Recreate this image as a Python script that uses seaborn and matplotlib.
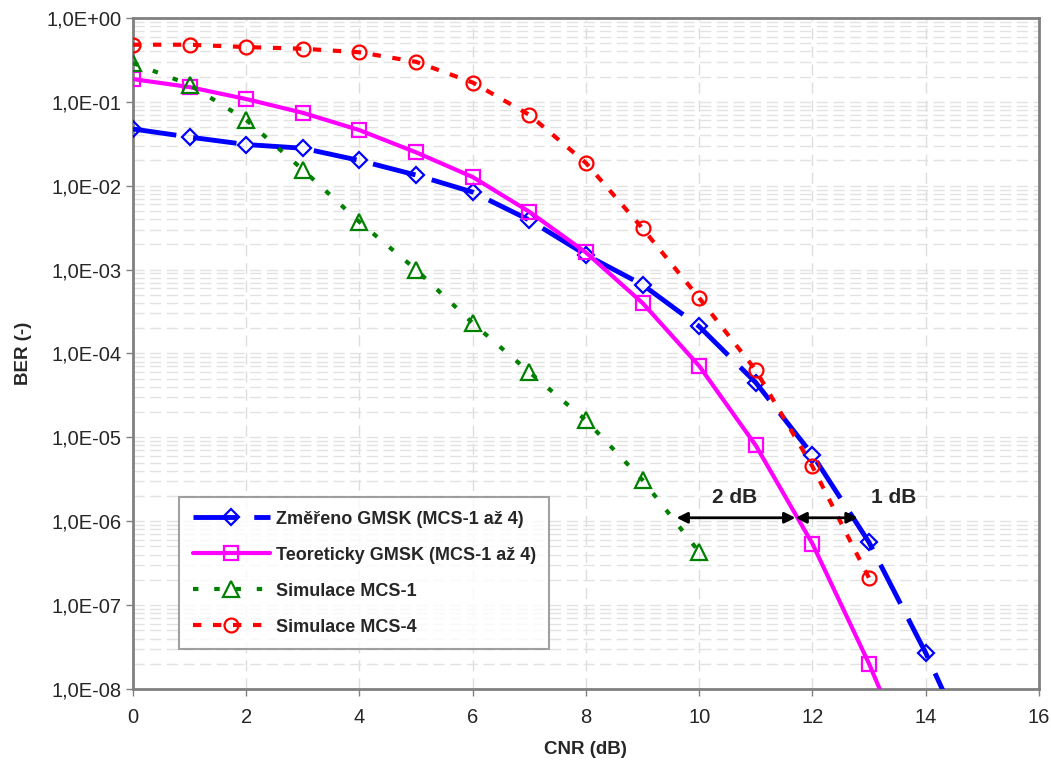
import matplotlib
matplotlib.use('Agg')

import numpy as np
import pandas as pd
import matplotlib.pyplot as plt
import matplotlib.ticker as mticker
import seaborn as sns

# ==============================
# DATA
# ==============================

cnr_zmereno = [0, 1, 2, 3, 4, 5, 6, 7, 8, 9, 10, 11, 12, 13, 14, 15]
ber_zmereno = [4.75e-2, 3.8e-2, 3.1e-2, 2.8e-2, 2.0e-2, 1.34e-2, 8.4e-3, 3.9e-3,
               1.5e-3, 6.6e-4, 2.1e-4, 4.5e-5, 6.2e-6, 5.6e-7, 2.7e-8, 9e-10]

cnr_teor = [0, 1, 2, 3, 4, 5, 6, 7, 8, 9, 10, 11, 12, 13, 14]
ber_teor = [1.87e-1, 1.5e-1, 1.08e-1, 7.4e-2, 4.6e-2, 2.5e-2, 1.27e-2, 4.9e-3,
            1.6e-3, 4.0e-4, 7.1e-5, 8.0e-6, 5.4e-7, 2.0e-8, 5e-10]

cnr_mcs1 = [0, 1, 2, 3, 4, 5, 6, 7, 8, 9, 10]
ber_mcs1 = [2.9e-1, 1.6e-1, 6.1e-2, 1.55e-2, 3.7e-3, 1.0e-3, 2.3e-4, 6.0e-5,
            1.6e-5, 3.1e-6, 4.3e-7]

cnr_mcs4 = [0, 1, 2, 3, 4, 5, 6, 7, 8, 9, 10, 11, 12, 13]
ber_mcs4 = [4.8e-1, 4.8e-1, 4.5e-1, 4.3e-1, 3.9e-1, 3.0e-1, 1.7e-1, 7.0e-2,
            1.87e-2, 3.1e-3, 4.6e-4, 6.3e-5, 4.5e-6, 2.1e-7]

nazvy = ['Změřeno GMSK (MCS-1 až 4)', 'Teoreticky GMSK (MCS-1 až 4)',
         'Simulace MCS-1', 'Simulace MCS-4']

# y axis decades (1E-08 .. 1E+00)
exponenty = [-8, -7, -6, -5, -4, -3, -2, -1, 0]

# annotations (CNR gaps at BER ~ 1e-6)
sipka_ber = 1.1e-6
sipka_2db = (9.6, 11.7)
sipka_1db = (11.7, 12.8)

# ==============================
# STYLE
# ==============================

sns.set_style('white')
plt.rcParams['font.family'] = ['Liberation Sans', 'DejaVu Sans']

fig = plt.figure(figsize=(10.51, 7.62), dpi=100)
ax = fig.add_axes([0.1265, 0.0958, 0.862, 0.8806])

serie = [
    (cnr_zmereno, ber_zmereno, nazvy[0], '#0000FF', (0, (9, 3.5)), 'D', 3.5, 8),
    (cnr_teor, ber_teor, nazvy[1], '#FF00FF', '-', 's', 3.0, 10),
    (cnr_mcs1, ber_mcs1, nazvy[2], '#008000', (0, (1.3, 3.8)), '^', 3.0, 11),
    (cnr_mcs4, ber_mcs4, nazvy[3], '#FF0000', (0, (2, 2.8)), 'o', 3.0, 10),
]

for x, y, nazev, barva, styl, znacka, lw, ms in serie:
    df = pd.DataFrame({'CNR': x, 'BER': y})
    sns.lineplot(data=df, x='CNR', y='BER', ax=ax, color=barva, linewidth=lw,
                 linestyle=styl, marker=znacka, markersize=ms,
                 markerfacecolor='none', markeredgecolor=barva,
                 markeredgewidth=1.6, label=nazev, zorder=3)

ax.set_yscale('log')
ax.set_xlim(0, 16)
ax.set_ylim(1e-8, 1)

ax.xaxis.set_major_locator(mticker.MultipleLocator(2))

hlavni = [10.0 ** e for e in exponenty]
vedlejsi = [k * 10.0 ** e for e in exponenty[:-1] for k in range(2, 10)]
ax.yaxis.set_major_locator(mticker.FixedLocator(hlavni))
ax.yaxis.set_minor_locator(mticker.FixedLocator(vedlejsi))
ax.yaxis.set_minor_formatter(mticker.NullFormatter())


def formatuj(v, pos):
    e = int(round(np.log10(v)))
    znak = '+' if e >= 0 else '-'
    return f'1,0E{znak}{abs(e):02d}'


ax.yaxis.set_major_formatter(mticker.FuncFormatter(formatuj))

ax.grid(True, which='major', axis='x', color='#DDDDDD', linestyle=(0, (8, 5)), linewidth=1)
ax.grid(True, which='both', axis='y', color='#E2E2E2', linestyle=(0, (8, 4)), linewidth=1)
ax.set_axisbelow(True)

for s in ax.spines.values():
    s.set_color('#808080')
    s.set_linewidth(2)

ax.tick_params(axis='both', which='major', labelsize=14.5, length=5, width=1,
               color='#808080', direction='out', bottom=True, left=True)
ax.tick_params(axis='x', which='major', pad=9)
ax.tick_params(axis='y', which='minor', left=False)

ax.set_xlabel('CNR (dB)', fontsize=13.5, fontweight='bold', labelpad=10)
ax.set_ylabel('BER (-)', fontsize=13.5, fontweight='bold', labelpad=10)

# ==============================
# ANNOTATIONS
# ==============================

for a, b in (sipka_2db, sipka_1db):
    ax.annotate('', xy=(b, sipka_ber), xytext=(a, sipka_ber),
                arrowprops=dict(arrowstyle='<|-|>', color='black', lw=2,
                                mutation_scale=16, shrinkA=0, shrinkB=0),
                zorder=4)

ax.text(10.63, 1.9e-6, '2 dB', fontsize=15, fontweight='bold', ha='center', va='center')
ax.text(13.43, 1.9e-6, '1 dB', fontsize=15, fontweight='bold', ha='center', va='center')

# ==============================
# LEGEND
# ==============================

leg = ax.legend(loc='upper left', bbox_to_anchor=(0.0508, 0.286), fontsize=13,
                frameon=True, fancybox=False, edgecolor='#888888', handlelength=4.3,
                borderpad=0.75, labelspacing=1.05, handletextpad=0.3,
                borderaxespad=0)
leg.get_frame().set_linewidth(1.5)
for t in leg.get_texts():
    t.set_fontweight('bold')

fig.savefig('out.png', dpi=100)
